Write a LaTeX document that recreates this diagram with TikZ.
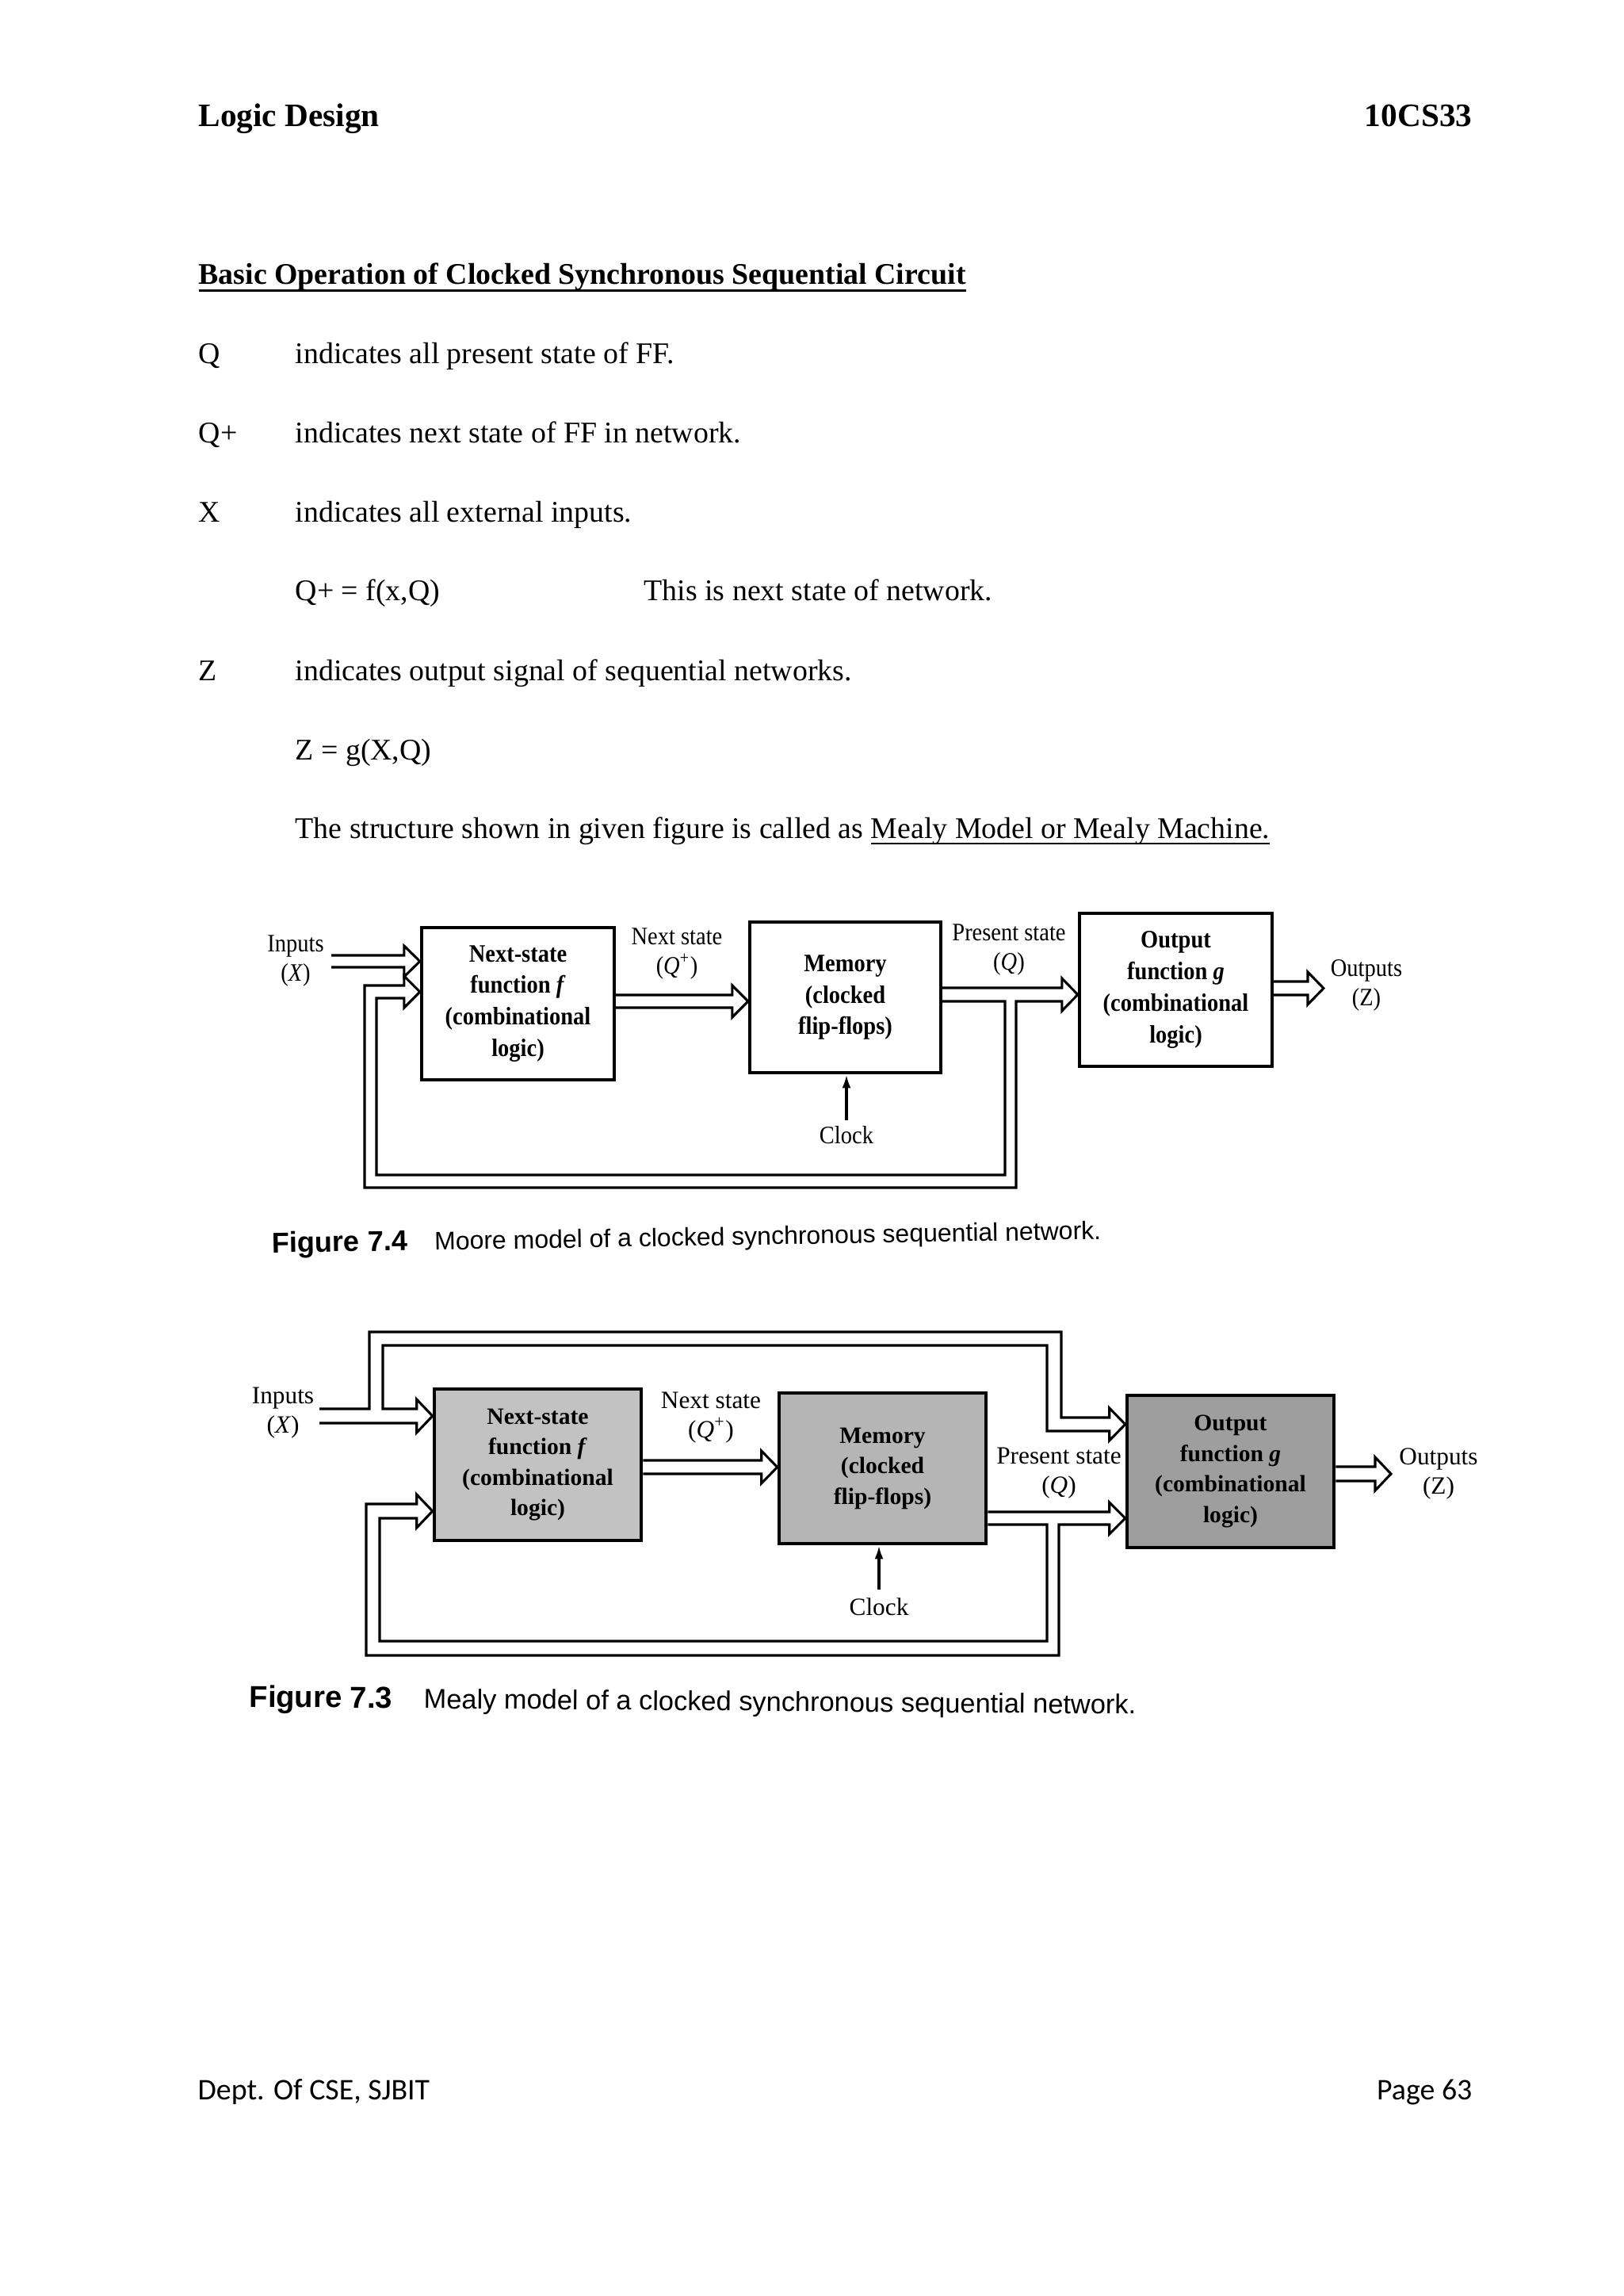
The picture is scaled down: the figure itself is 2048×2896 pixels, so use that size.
\documentclass[tikz,border=0pt]{standalone}
\usepackage{fontspec}
\setmainfont{Liberation Serif}
\newfontfamily\figA[FakeStretch=0.9]{Liberation Serif}
\newfontfamily\figB{Liberation Serif}
\newfontfamily\capf{Liberation Sans}
\newfontfamily\footf{Carlito}
\usetikzlibrary{calc,arrows.meta}
\newcommand\myul[3]{\setbox0\hbox{#3}\rlap{\rule[#1]{\wd0}{#2}}\box0}
\definecolor{gNS}{gray}{0.76}
\definecolor{gMem}{gray}{0.71}
\definecolor{gOut}{gray}{0.62}
\begin{document}
\begin{tikzpicture}[x=0.29067pt,y=-0.29067pt,
  body/.style={inner sep=0, anchor=base west, font=\fontsize{11}{13}\selectfont},
  head/.style={inner sep=0, font=\bfseries\fontsize{12}{14}\selectfont},
  boxA/.style={draw, line width=1.3pt, inner sep=0, align=center, fill=white,
     font=\figA\bfseries\fontsize{9.2}{11.6}\selectfont},
  boxB/.style={draw, line width=1.3pt, inner sep=0, align=center,
     font=\figB\bfseries\fontsize{8.6}{11.2}\selectfont},
  lblA/.style={inner sep=0, align=center, font=\figA\fontsize{9.2}{10.8}\selectfont},
  lblB/.style={inner sep=0, align=center, font=\figB\fontsize{9.1}{10.8}\selectfont},
  bus/.style={line width=0.9pt, line join=miter},
  clkarrow/.style={line width=1pt, -{Latex[length=5pt,width=3.2pt]}},
  headUL/.style n args={3}{insert path={-- ($(#1|-0,#2)+(-20,0)$) -- ++(0,-12)
     -- ($(#1|-0,#2)!0.5!(#1|-0,#3)$) -- ($(#1|-0,#3)+(-20,12)$) -- ++(0,-12)}},
  headLU/.style n args={3}{insert path={-- ($(#1|-0,#2)+(-20,0)$) -- ++(0,12)
     -- ($(#1|-0,#2)!0.5!(#1|-0,#3)$) -- ($(#1|-0,#3)+(-20,-12)$) -- ++(0,12)}}
]
\useasboundingbox (0,0) rectangle (2048,2896);
\fill[white] (0,0) rectangle (2048,2896);

% ---------- header ----------
\node[head, anchor=base west] (hdL) at (250,159) {Logic Design};
\node[head, anchor=base east] (hdR) at (1858,159) {10CS33};
\node[inner sep=0, anchor=base west, font=\bfseries\fontsize{11}{13}\selectfont] (title) at (250,358)
  {\myul{-2.9pt}{1pt}{Basic Operation of Clocked Synchronous Sequential Circuit}};

% ---------- body ----------
\node[body] (t1a) at (250,458) {Q};
\node[body] (t1b) at (372,458) {indicates all present state of FF.};
\node[body] (t2a) at (250,558) {Q+};
\node[body] (t2b) at (372,558) {indicates next state of FF in network.};
\node[body] (t3a) at (250,658) {X};
\node[body] (t3b) at (372,658) {indicates all external inputs.};
\node[body] (t4a) at (372,757) {Q+ = f(x,Q)};
\node[body] (t4b) at (812,757) {This is next state of network.};
\node[body] (t5a) at (250,858) {Z};
\node[body] (t5b) at (372,858) {indicates output signal of sequential networks.};
\node[body] (t6a) at (372,958) {Z = g(X,Q)};
\node[body] (t7a) at (372,1057) {The structure shown in given figure is called as \myul{-2.4pt}{0.6pt}{Mealy Model or Mealy Machine.}};

% ---------- Figure 7.4 (Moore) ----------
\node[boxA, minimum width=70.6pt, minimum height=55.8pt] (nsA) at (653.5,1266)
  {Next-state\\function \textit{f}\\(combinational\\logic)};
\node[boxA, minimum width=70.0pt, minimum height=55.2pt] (memA) at (1066.5,1258)
  {Memory\\(clocked\\flip-flops)};
\node[boxA, minimum width=70.6pt, minimum height=56.1pt] (outA) at (1483.5,1248.5)
  {Output\\function \textit{g}\\(combinational\\logic)};
\node[lblA] (inLA) at (373,1212) {Inputs\\(\textit{X})};
\node[lblA] (nsLA) at (854,1203) {Next state\\(\textit{Q}\textsuperscript{+})};
\node[lblA] (psLA) at (1273,1198) {Present state\\(\textit{Q})};
\node[lblA] (zLA) at (1724,1243) {Outputs\\(Z)};
\node[lblA, anchor=base] (clkLA) at (1068,1442) {Clock};

\coordinate (inA1) at (418,1205);
\coordinate (inA2) at (418,1220);
\coordinate (zA) at (1670,1246);
\coordinate (clkA) at (1068,1413);

\draw[bus] (inA1) [headUL={nsA.west}{1205}{1220}] -- (inA2);
\draw[bus] (nsA.east|-0,1255) [headUL={memA.west}{1255}{1271}] -- (nsA.east|-0,1271);
\draw[bus] (memA.east|-0,1263) -- (1268,1263) -- (1268,1482) -- (475,1482) -- (475,1259)
  [headLU={nsA.west}{1259}{1243}] -- (460,1243) -- (460,1498) -- (1282,1498) -- (1282,1263)
  [headLU={outA.west}{1263}{1246}] -- (memA.east|-0,1246);
\draw[bus] (outA.east|-0,1238) [headUL={zA}{1238}{1255}] -- (outA.east|-0,1255);
\draw[clkarrow] (clkA) -- (clkA|-memA.south);

\node[anchor=base west, inner sep=0, rotate=0.93] (capA) at (343,1580)
  {{\capf\bfseries\fontsize{10.5}{12}\selectfont Figure 7.4}\hspace{9.9pt}{\capf\fontsize{9.3}{12}\selectfont Moore model of a clocked synchronous sequential network.}};

% ---------- Figure 7.3 (Mealy) ----------
\node[boxB, fill=gNS, minimum width=75.9pt, minimum height=55.5pt] (nsB) at (678.5,1847.5)
  {Next-state\\function \textit{f}\\(combinational\\logic)};
\node[boxB, fill=gMem, minimum width=75.9pt, minimum height=55.2pt] (memB) at (1113.5,1852)
  {Memory\\(clocked\\flip-flops)};
\node[boxB, fill=gOut, minimum width=75.9pt, minimum height=55.8pt] (outB) at (1552.5,1856)
  {Output\\function \textit{g}\\(combinational\\logic)};
\node[lblB] (inLB) at (357,1782) {Inputs\\(\textit{X})};
\node[lblB] (nsLB) at (897,1788) {Next state\\(\textit{Q}\textsuperscript{+})};
\node[lblB] (psLB) at (1336,1858) {Present state\\(\textit{Q})};
\node[lblB] (zLB) at (1815,1859) {Outputs\\(Z)};
\node[lblB, anchor=base] (clkLB) at (1109,2037) {Clock};

\coordinate (inB1) at (403,1777);
\coordinate (inB2) at (403,1795);
\coordinate (zB) at (1755,1859);
\coordinate (clkB) at (1109,2005);

\draw[bus] (inB1) -- (466,1777) -- (466,1680) -- (1339,1680) -- (1339,1788)
  [headUL={outB.west}{1788}{1805}] -- (1321,1805) -- (1321,1697) -- (483,1697) -- (483,1777)
  [headUL={nsB.west}{1777}{1795}] -- (inB2);
\draw[bus] (nsB.east|-0,1842) [headUL={memB.west}{1842}{1859}] -- (nsB.east|-0,1859);
\draw[bus] (memB.east|-0,1923) -- (1321,1923) -- (1321,2070) -- (479,2070) -- (479,1915)
  [headLU={nsB.west}{1915}{1897}] -- (462,1897) -- (462,2088) -- (1336,2088) -- (1336,1923)
  [headLU={outB.west}{1923}{1907}] -- (memB.east|-0,1907);
\draw[bus] (outB.east|-0,1850) [headUL={zB}{1850}{1868}] -- (outB.east|-0,1868);
\draw[clkarrow] (clkB) -- (clkB|-memB.south);

\node[anchor=base west, inner sep=0, rotate=-0.46] (capB) at (314,2153)
  {{\capf\bfseries\fontsize{11.1}{13}\selectfont Figure 7.3}\hspace{11.5pt}{\capf\fontsize{10}{12}\selectfont Mealy model of a clocked synchronous sequential network.}};

% ---------- footer ----------
\node[anchor=base west, inner sep=0, font=\footf\fontsize{11}{13}\selectfont] (ft1) at (249,2648) {Dept. Of CSE, SJBIT};
\node[anchor=base east, inner sep=0, font=\footf\fontsize{11}{13}\selectfont] (ft2) at (1858,2648) {Page 63};
\end{tikzpicture}
\end{document}
